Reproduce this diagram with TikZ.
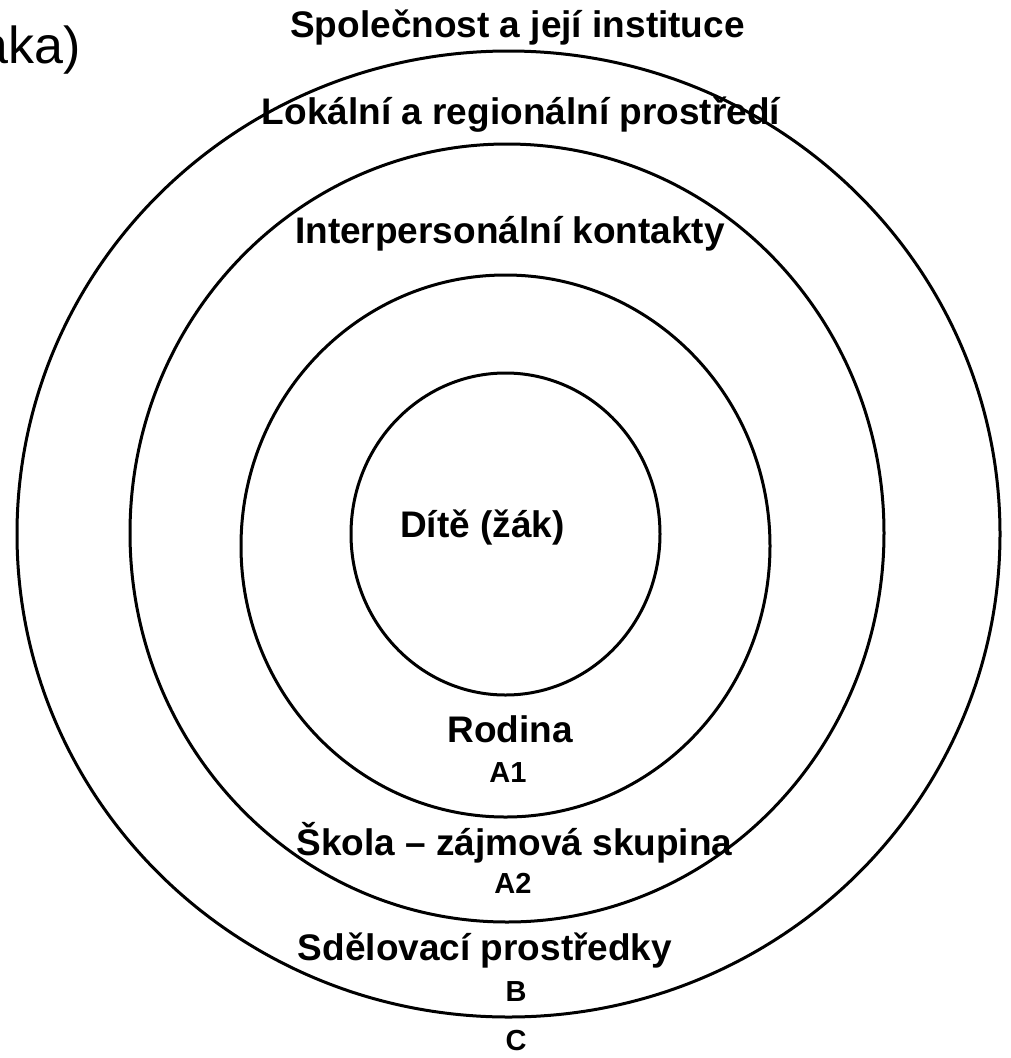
\documentclass[tikz,border=0pt]{standalone}
\usepackage{fontspec}
\setmainfont{Liberation Sans}
\begin{document}
\begin{tikzpicture}[x=1pt,y=-1pt,
  ring/.style={draw=black, line width=3pt},
  biglabel/.style={anchor=base, inner sep=0pt, font=\fontsize{37}{40}\selectfont\bfseries},
  codelabel/.style={anchor=base, inner sep=0pt, font=\fontsize{29}{32}\selectfont\bfseries}]
\useasboundingbox (0,0) rectangle (1010,1058);
\fill[white] (0,0) rectangle (1010,1058);
% rings
\draw[ring] (508.5,534) ellipse [x radius=491.5pt, y radius=483pt];
\draw[ring] (507,533) ellipse [x radius=377pt, y radius=389pt];
\draw[ring] (505.5,546) ellipse [x radius=264.5pt, y radius=271pt];
\draw[ring] (505.5,534) ellipse [x radius=154.5pt, y radius=161pt];
% cut-off title fragment
\node[anchor=base east, inner sep=0pt, font=\fontsize{52}{56}\selectfont] (frag) at (81,63) {aka)};
% labels
\node[biglabel] (spol) at (517.5,37) {Společnost a její instituce};
\node[biglabel] (lok) at (521,124) {Lokální a regionální prostředí};
\node[biglabel] (inter) at (510,243) {Interpersonální kontakty};
\node[biglabel] (dite) at (482.5,537) {Dítě (žák)};
\node[biglabel] (rod) at (510,742) {Rodina};
\node[codelabel] (a1) at (508,782) {A1};
\node[biglabel] (skola) at (514.5,855) {Škola – zájmová skupina};
\node[codelabel] (a2) at (513,893) {A2};
\node[biglabel] (sdel) at (485,960) {Sdělovací prostředky};
\node[codelabel] (b) at (516,1001) {B};
\node[codelabel] (c) at (516,1050) {C};
\end{tikzpicture}
\end{document}
